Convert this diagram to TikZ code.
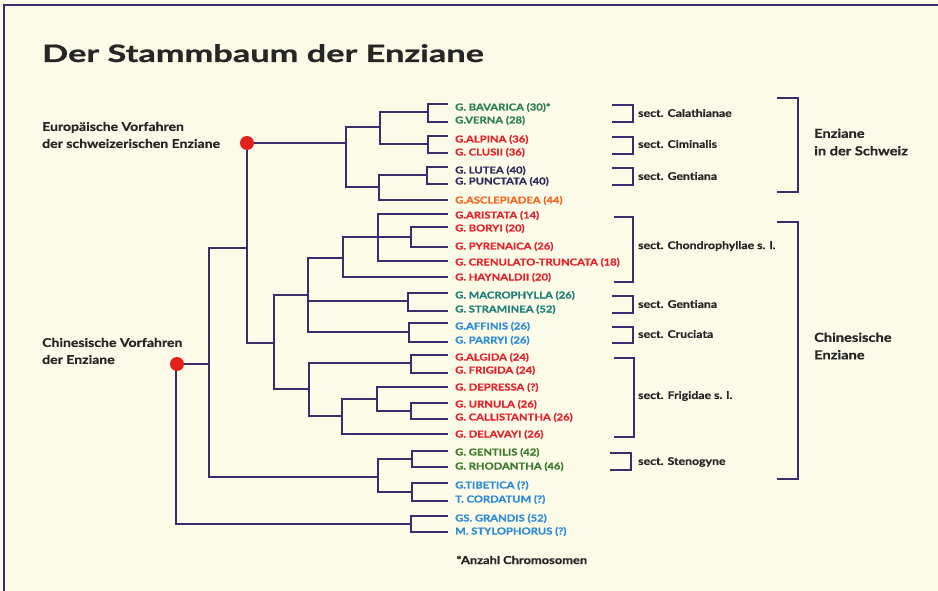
\documentclass[tikz,border=0pt]{standalone}
\usepackage{fontspec}
\setmainfont{Lato}[FakeStretch=1.17,FakeBold=0.6]
\newfontfamily\titlefont{Lato}[FakeStretch=1.43,FakeBold=0.8]
\definecolor{bgc}{HTML}{FCFBE8}
\definecolor{treec}{HTML}{3B2C6E}
\definecolor{dotc}{HTML}{E3201E}
\definecolor{cred}{HTML}{E8202A}
\definecolor{cgreen}{HTML}{2A8050}
\definecolor{cteal}{HTML}{1C7F78}
\definecolor{cgreenb}{HTML}{3A7A2A}
\definecolor{cnavy}{HTML}{2E2A5E}
\definecolor{corange}{HTML}{F26522}
\definecolor{cblue}{HTML}{2A8BDB}
\definecolor{ctext}{HTML}{262626}
\tikzset{
  br/.style={draw=treec,line width=1.4pt},
  leaf/.style={anchor=base west,inner sep=0pt,font=\bfseries\fontsize{9.6}{11}\selectfont},
  sect/.style={anchor=west,inner sep=0pt,text=ctext,font=\bfseries\fontsize{10.5}{12}\selectfont},
  big/.style={anchor=west,inner sep=0pt,text=ctext,align=left,font=\bfseries\fontsize{12.5}{17.5}\selectfont},
  anc/.style={anchor=west,inner sep=0pt,text=ctext,align=left,font=\bfseries\fontsize{12}{17}\selectfont},
  rdot/.style={circle,fill=dotc,minimum size=14pt,inner sep=0pt},
  brk/.style={draw=treec,line width=1.4pt}
}
\begin{document}
\begin{tikzpicture}[x=1pt,y=-1pt]
\fill[bgc] (0,0) rectangle (938,591);
\useasboundingbox (0,0) rectangle (938,591);
\draw[treec,line width=2pt] (4,591) -- (4,5) -- (938,5);
% title
\node[anchor=base west,inner sep=0pt,text=ctext,font=\titlefont\bfseries\fontsize{24}{30}\selectfont] (title) at (42,62) {Der Stammbaum der Enziane};
% ancestor labels
\node[anc] (eurolab) at (42,135) {Europäische Vorfahren\\der schweizerischen Enziane};
\node[anc] (chinlab) at (42,351) {Chinesische Vorfahren\\der Enziane};
% leaf ends
\foreach \n/\y in {1/104,2/122,3/136,4/153,5/167,6/184,7/200,8/214,9/227,10/247,11/261,12/277,13/293,14/311,15/323,16/342,17/355,18/373,19/387,20/403,21/419,22/434,23/451,24/467,25/483,26/501,27/516,28/532}
  \coordinate (e\n) at (448,\y);
% leaf labels
\node[leaf,text=cgreen] (t1) at (455,110.5) {G. BAVARICA (30)*};
\node[leaf,text=cgreen] (t2) at (455,123.5) {G.VERNA (28)};
\node[leaf,text=cred] (t3) at (455,142.5) {G.ALPINA (36)};
\node[leaf,text=cred] (t4) at (455,155.5) {G. CLUSII (36)};
\node[leaf,text=cnavy] (t5) at (455,173.5) {G. LUTEA (40)};
\node[leaf,text=cnavy] (t6) at (455,184.5) {G. PUNCTATA (40)};
\node[leaf,text=corange] (t7) at (455,203.5) {G.ASCLEPIADEA (44)};
\node[leaf,text=cred] (t8) at (455,218.5) {G.ARISTATA (14)};
\node[leaf,text=cred] (t9) at (455,231.5) {G. BORYI (20)};
\node[leaf,text=cred] (t10) at (455,249.5) {G. PYRENAICA (26)};
\node[leaf,text=cred] (t11) at (455,265.5) {G. CRENULATO-TRUNCATA (18)};
\node[leaf,text=cred] (t12) at (455,280.5) {G. HAYNALDII (20)};
\node[leaf,text=cteal] (t13) at (455,298.5) {G. MACROPHYLLA (26)};
\node[leaf,text=cteal] (t14) at (455,312.5) {G. STRAMINEA (52)};
\node[leaf,text=cblue] (t15) at (455,329.5) {G.AFFINIS (26)};
\node[leaf,text=cblue] (t16) at (455,343.5) {G. PARRYI (26)};
\node[leaf,text=cred] (t17) at (455,360.5) {G.ALGIDA (24)};
\node[leaf,text=cred] (t18) at (455,373.5) {G. FRIGIDA (24)};
\node[leaf,text=cred] (t19) at (455,390.5) {G. DEPRESSA (?)};
\node[leaf,text=cred] (t20) at (455,407.5) {G. URNULA (26)};
\node[leaf,text=cred] (t21) at (455,420.5) {G. CALLISTANTHA (26)};
\node[leaf,text=cred] (t22) at (455,437.5) {G. DELAVAYI (26)};
\node[leaf,text=cgreenb] (t23) at (455,455.5) {G. GENTILIS (42)};
\node[leaf,text=cgreenb] (t24) at (455,469.5) {G. RHODANTHA (46)};
\node[leaf,text=cblue] (t25) at (455,488.5) {G.TIBETICA (?)};
\node[leaf,text=cblue] (t26) at (455,502.5) {T. CORDATUM (?)};
\node[leaf,text=cblue] (t27) at (455,521.5) {GS. GRANDIS (52)};
\node[leaf,text=cblue] (t28) at (455,534.5) {M. STYLOPHORUS (?)};
\node[anchor=base west,inner sep=0pt,text=ctext,font=\bfseries\fontsize{11}{12}\selectfont] (foot) at (456,564) {*Anzahl Chromosomen};
% internal nodes
\coordinate (nA) at (428,112);
\coordinate (nB) at (428,144);
\coordinate (nC) at (380,127);
\coordinate (nD) at (427,175);
\coordinate (nE) at (379,187);
\coordinate (nF) at (346,143);
\coordinate (n247) at (247,248);
\coordinate (nG) at (274,343);
\coordinate (nH) at (308,295);
\coordinate (nI) at (343,258);
\coordinate (nL) at (378,237);
\coordinate (nM) at (411,237);
\coordinate (nJ) at (408,301);
\coordinate (nK) at (409,332);
\coordinate (nQ) at (309,389);
\coordinate (nR) at (411,363);
\coordinate (nS) at (342,416);
\coordinate (nT) at (377,399);
\coordinate (nU) at (411,411);
\coordinate (n209) at (209,364);
\coordinate (nV) at (378,477);
\coordinate (nW) at (412,459);
\coordinate (nX) at (412,492);
\coordinate (root) at (176,364);
\coordinate (nY) at (411,524);
% edges
\draw[br] (nA) |- (e1); \draw[br] (nA) |- (e2);
\draw[br] (nB) |- (e3); \draw[br] (nB) |- (e4);
\draw[br] (nC) |- (nA); \draw[br] (nC) |- (nB);
\draw[br] (nD) |- (e5); \draw[br] (nD) |- (e6);
\draw[br] (nE) |- (nD); \draw[br] (nE) |- (e7);
\draw[br] (nF) |- (nC); \draw[br] (nF) |- (nE);
\draw[br] (n247) |- (nF); \draw[br] (n247) |- (nG);
\draw[br] (nG) |- (nH); \draw[br] (nG) |- (nQ);
\draw[br] (nH) |- (nI); \draw[br] (nH) |- (nJ); \draw[br] (nH) |- (nK);
\draw[br] (nI) |- (nL); \draw[br] (nI) |- (e12);
\draw[br] (nL) |- (e8); \draw[br] (nL) |- (nM); \draw[br] (nL) |- (e11);
\draw[br] (nM) |- (e9); \draw[br] (nM) |- (e10);
\draw[br] (nJ) |- (e13); \draw[br] (nJ) |- (e14);
\draw[br] (nK) |- (e15); \draw[br] (nK) |- (e16);
\draw[br] (nQ) |- (nR); \draw[br] (nQ) |- (nS);
\draw[br] (nR) |- (e17); \draw[br] (nR) |- (e18);
\draw[br] (nS) |- (nT); \draw[br] (nS) |- (e22);
\draw[br] (nT) |- (e19); \draw[br] (nT) |- (nU);
\draw[br] (nU) |- (e20); \draw[br] (nU) |- (e21);
\draw[br] (n209) |- (n247); \draw[br] (n209) |- (nV);
\draw[br] (nV) |- (nW); \draw[br] (nV) |- (nX);
\draw[br] (nW) |- (e23); \draw[br] (nW) |- (e24);
\draw[br] (nX) |- (e25); \draw[br] (nX) |- (e26);
\draw[br] (root) -- (n209); \draw[br] (root) |- (nY);
\draw[br] (nY) |- (e27); \draw[br] (nY) |- (e28);
% red dots
\node[rdot] (eurodot) at (247,143) {};
\node[rdot] (chindot) at (177,364) {};
% section brackets
\draw[brk] (612,105) -- (633,105) -- (633,122) -- (612,122);
\node[sect] (s1) at (638,113) {sect. Calathianae};
\draw[brk] (612,137) -- (633,137) -- (633,154) -- (612,154);
\node[sect] (s2) at (638,144) {sect. Ciminalis};
\draw[brk] (612,168) -- (633,168) -- (633,185) -- (612,185);
\node[sect] (s3) at (638,176) {sect. Gentiana};
\draw[brk] (614,217) -- (633,217) -- (633,282) -- (614,282);
\node[sect] (s4) at (638,246) {sect. Chondrophyllae s. l.};
\draw[brk] (612,296) -- (633,296) -- (633,313) -- (612,313);
\node[sect] (s5) at (638,304) {sect. Gentiana};
\draw[brk] (612,327) -- (633,327) -- (633,343) -- (612,343);
\node[sect] (s6) at (638,334) {sect. Cruciata};
\draw[brk] (614,358) -- (634,358) -- (634,437) -- (614,437);
\node[sect] (s7) at (638,396) {sect. Frigidae s. l.};
\draw[brk] (610,453) -- (631,453) -- (631,470) -- (610,470);
\node[sect] (s8) at (638,462) {sect. Stenogyne};
% big brackets
\draw[brk] (777,98) -- (798,98) -- (798,192) -- (777,192);
\node[big] (g1) at (814,142) {Enziane\\in der Schweiz};
\draw[brk] (777,222) -- (798,222) -- (798,479) -- (777,479);
\node[big] (g2) at (814,346) {Chinesische\\Enziane};
\end{tikzpicture}
\end{document}
